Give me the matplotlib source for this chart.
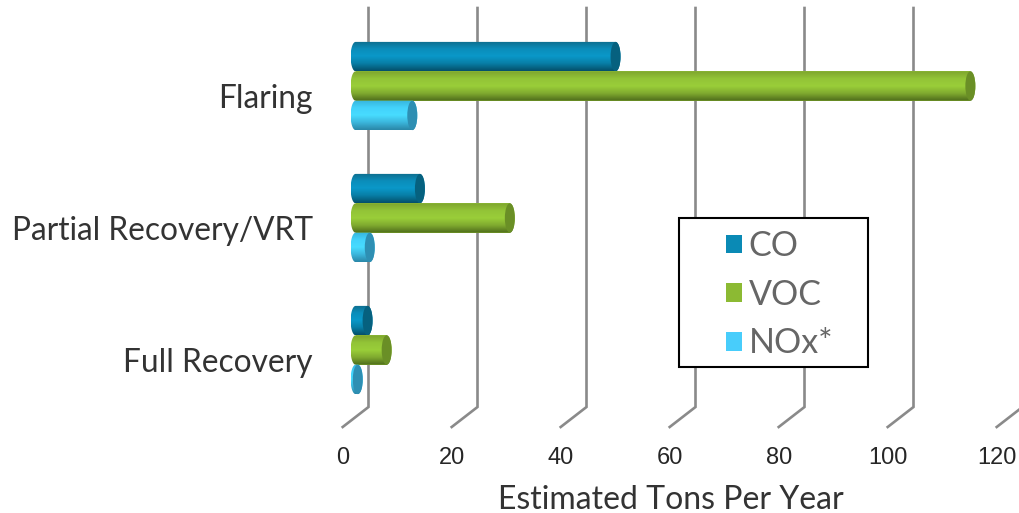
import numpy as np
import matplotlib
matplotlib.use("Agg")
import matplotlib.pyplot as plt
from matplotlib.colors import LinearSegmentedColormap
from matplotlib.patches import Ellipse, Patch, PathPatch, Rectangle
from matplotlib.path import Path

# Emissions by control scenario, tons per year
categories = ["Full Recovery", "Partial Recovery/VRT", "Flaring"]
series_names = ["CO", "VOC", "NOx*"]
co_values = [2.2, 11.8, 47.7]
voc_values = [5.7, 28.3, 112.8]
nox_values = [0.4, 2.6, 10.4]
tick_values = [0, 20, 40, 60, 80, 100, 120]

W, H = 1020, 513
PX_PER_TON = 5.45
PX_PER_CAT = 132.0
ZERO_PX = 355.6
FULL_RECOVERY_PY = 350.0
FLOOR_PY = 427.0
BACK_PY = 407.0
TOP_PY = 8.0
DEPTH = 12.9 / PX_PER_TON

STYLES = {
    "CO": dict(swatch="#0a8ab5", cap="#06617f",
               ramp=["#0e6d8d", "#0b8dba", "#0a98c9", "#087ea6", "#04506b"]),
    "VOC": dict(swatch="#8cba33", cap="#6a8f26",
                ramp=["#7ea52e", "#93c437", "#9ace39", "#7fa92f", "#4e6c1b"]),
    "NOx*": dict(swatch="#48cdfb", cap="#2e8fb3",
                 ramp=["#37b5dc", "#43d2fb", "#48dcff", "#3bb6dc", "#2a87a8"]),
}
BAR_H = 29.4 / PX_PER_CAT
CAP_RX = 5.0 / PX_PER_TON
SLOT = 29.4 / PX_PER_CAT

plt.rcParams["font.family"] = ["Lato", "DejaVu Sans"]
fig = plt.figure(figsize=(W / 100, H / 100), dpi=100)

x_left = ZERO_PX - DEPTH * PX_PER_TON
ax = fig.add_axes([x_left / W, (H - FLOOR_PY) / H, (W - x_left) / W, FLOOR_PY / H])
ax.set_xlim(-DEPTH, (W - ZERO_PX) / PX_PER_TON)
ax.set_ylim((FULL_RECOVERY_PY - FLOOR_PY) / PX_PER_CAT, FULL_RECOVERY_PY / PX_PER_CAT)
ax.patch.set_alpha(0)
for spine in ax.spines.values():
    spine.set_visible(False)

# Wall gridlines with their slanted foot on the chart floor
floor_y = ax.get_ylim()[0]
back_y = (FULL_RECOVERY_PY - BACK_PY) / PX_PER_CAT
top_y = (FULL_RECOVERY_PY - TOP_PY) / PX_PER_CAT
for v in tick_values:
    ax.plot([v - DEPTH, v + DEPTH, v + DEPTH], [floor_y, back_y, top_y],
            color="#8a8a8a", lw=1.9, solid_joinstyle="miter", zorder=1, clip_on=False)


def cylinder(value, y, style, z):
    """Horizontal cylinder: shaded body, rounded base, darker end cap."""
    ax.barh(y, value, height=BAR_H, left=0, color=style["ramp"][2], zorder=z)
    ry = BAR_H / 2
    t = np.linspace(np.pi / 2, 3 * np.pi / 2, 40)
    left = np.column_stack([CAP_RX * np.cos(t), y + ry * np.sin(t)])
    right = np.column_stack([value + CAP_RX * np.cos(t + np.pi), y + ry * np.sin(t + np.pi)])
    outline = np.vstack([left, right])
    outline = np.vstack([outline, outline[0]])
    clip = PathPatch(Path(outline), transform=ax.transData, fc="none", ec="none")
    ax.add_patch(clip)
    cmap = LinearSegmentedColormap.from_list("shade", style["ramp"])
    grad = np.linspace(0, 1, 64).reshape(-1, 1)
    img = ax.imshow(grad, cmap=cmap, aspect="auto", origin="upper", zorder=z + 0.1,
                    extent=[-CAP_RX, value + CAP_RX, y - ry, y + ry], interpolation="bilinear")
    img.set_clip_path(clip)
    ax.add_patch(Ellipse((value, y), 2 * CAP_RX, BAR_H, fc=style["cap"], ec="none", zorder=z + 0.2))


for i in range(len(categories)):
    for j, (name, vals) in enumerate(zip(series_names, [co_values, voc_values, nox_values])):
        cylinder(vals[i], i + (1 - j) * SLOT, STYLES[name], 3 + 0.5 * j)

ax.set_xlim(-DEPTH, (W - ZERO_PX) / PX_PER_TON)
ax.set_ylim((FULL_RECOVERY_PY - FLOOR_PY) / PX_PER_CAT, FULL_RECOVERY_PY / PX_PER_CAT)

# Axis labelling
ax.set_xticks([v - DEPTH for v in tick_values], [str(v) for v in tick_values],
              fontfamily="Liberation Sans", fontsize=17, color="#262626")
ax.tick_params(axis="x", length=0, pad=14.5)
ax.set_yticks([i - 10 / PX_PER_CAT for i in range(len(categories))], categories,
              fontsize=22.8, color="#333333")
ax.tick_params(axis="y", length=0, pad=21.4)
ax.set_xlabel("Estimated Tons Per Year", fontsize=23, color="#333333")
ax.xaxis.set_label_coords((670.5 - x_left) / (W - x_left), -(500 - FLOOR_PY) / FLOOR_PY)
ax.xaxis.label.set_verticalalignment("center")

# Legend box sitting over the gridlines
fig.add_artist(Rectangle((679 / W, (H - 367) / H), 189 / W, 149 / H, transform=fig.transFigure,
                         fc="white", ec="black", lw=1.5, zorder=10))
handles = [Patch(fc=STYLES[n]["swatch"], ec="none") for n in series_names]
leg = fig.legend(handles, series_names, frameon=False, labelcolor="#666666",
                 prop=dict(size=24.5),
                 loc="upper left", bbox_to_anchor=(726 / W, (H - 230) / H), borderpad=0, borderaxespad=0,
                 handlelength=0.47, handleheight=0.47, handletextpad=0.2, labelspacing=0.49)
leg.set_zorder(11)

fig.savefig("out.png", dpi=100)
